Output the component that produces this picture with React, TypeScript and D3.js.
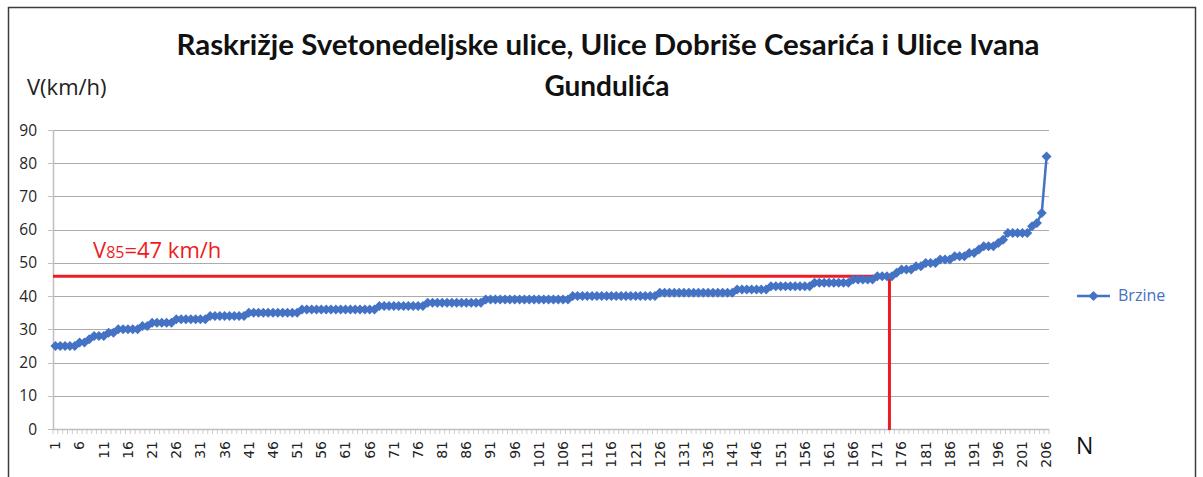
import React, { useEffect, useRef } from 'react';
import * as d3 from 'd3';

// measured speeds, sorted ascending (206 vehicles)
const speeds: number[] = [
  25, 25, 25, 25, 25, 26, 26, 27, 28, 28, 28, 29, 29, 30, 30, 30, 30, 30, 31, 31,
  32, 32, 32, 32, 32, 33, 33, 33, 33, 33, 33, 33, 34, 34, 34, 34, 34, 34, 34, 34,
  35, 35, 35, 35, 35, 35, 35, 35, 35, 35, 35,
  36, 36, 36, 36, 36, 36, 36, 36, 36, 36, 36, 36, 36, 36, 36, 36,
  37, 37, 37, 37, 37, 37, 37, 37, 37, 37,
  38, 38, 38, 38, 38, 38, 38, 38, 38, 38, 38, 38,
  39, 39, 39, 39, 39, 39, 39, 39, 39, 39, 39, 39, 39, 39, 39, 39, 39, 39,
  40, 40, 40, 40, 40, 40, 40, 40, 40, 40, 40, 40, 40, 40, 40, 40, 40, 40,
  41, 41, 41, 41, 41, 41, 41, 41, 41, 41, 41, 41, 41, 41, 41, 41,
  42, 42, 42, 42, 42, 42, 42,
  43, 43, 43, 43, 43, 43, 43, 43, 43,
  44, 44, 44, 44, 44, 44, 44, 44,
  45, 45, 45, 45, 45,
  46, 46, 46, 46,
  47, 48, 48, 48, 49, 49, 50, 50, 50, 51, 51, 51, 52, 52, 52, 53, 53, 54, 55, 55,
  55, 56, 57, 59, 59, 59, 59, 59, 61, 62, 65, 82,
];
const categories: string[] = speeds.map((_, i) => String(i + 1));
const yTicks = [0, 10, 20, 30, 40, 50, 60, 70, 80, 90];
const titleLines = [
  'Raskrižje Svetonedeljske ulice, Ulice Dobriše Cesarića i Ulice Ivana',
  'Gundulića',
];
const seriesName = 'Brzine';
const v85Level = 46; // red horizontal marker
const v85Band = '174'; // red vertical marker sits on the left edge of this band

const BLUE = '#4472C4';
const RED = '#ED1C24';
const GRID = '#ababab';
const AXIS = '#bfbfbf';

const W = 1203;
const H = 477;
const plot = { left: 53, right: 1049, top: 130, bottom: 429 };

const diamond = (r: number) => `M0,${-r}L${r},0L0,${r}L${-r},0Z`;

const App: React.FC = () => {
  const svgRef = useRef<SVGSVGElement>(null);

  useEffect(() => {
    if (!svgRef.current) return;
    const svg = d3.select(svgRef.current);
    svg.selectAll('*').remove();

    const xScale = d3
      .scaleBand()
      .domain(categories)
      .range([plot.left, plot.right])
      .padding(0);
    const bw = xScale.bandwidth();
    const cx = (c: string) => (xScale(c) || 0) + bw / 2;

    const yScale = d3.scaleLinear().domain([0, 90]).range([plot.bottom, plot.top]);

    // frame
    svg
      .append('rect')
      .attr('x', 8.5)
      .attr('y', 7.5)
      .attr('width', 1187)
      .attr('height', 490)
      .attr('fill', 'none')
      .attr('stroke', '#3c3c3c')
      .attr('stroke-width', 1.5);

    // title
    const title = svg
      .append('g')
      .attr('font-family', 'Lato, "Open Sans", sans-serif')
      .attr('font-weight', 700)
      .attr('font-size', 28)
      .attr('fill', '#111')
      .attr('text-anchor', 'middle');
    title
      .append('text')
      .attr('x', 608)
      .attr('y', 55)
      .attr('textLength', 863)
      .attr('lengthAdjust', 'spacingAndGlyphs')
      .text(titleLines[0]);
    title.append('text').attr('x', 607).attr('y', 96).text(titleLines[1]);

    // axis titles
    svg
      .append('text')
      .attr('x', 27)
      .attr('y', 95)
      .attr('font-family', '"Open Sans", sans-serif')
      .attr('font-size', 22)
      .attr('fill', '#222')
      .text('V(km/h)');
    svg
      .append('text')
      .attr('x', 1076)
      .attr('y', 454)
      .attr('font-family', '"Open Sans", sans-serif')
      .attr('font-size', 23)
      .attr('fill', '#111')
      .text('N');

    // grid
    svg
      .append('g')
      .selectAll('line')
      .data(yTicks.filter((t) => t > 0))
      .join('line')
      .attr('x1', plot.left)
      .attr('x2', plot.right)
      .attr('y1', (d) => Math.round(yScale(d)) + 0.5)
      .attr('y2', (d) => Math.round(yScale(d)) + 0.5)
      .attr('stroke', GRID)
      .attr('stroke-width', 1.2);

    // y axis
    const yAxis = svg.append('g');
    yAxis
      .append('line')
      .attr('x1', plot.left + 0.5)
      .attr('x2', plot.left + 0.5)
      .attr('y1', plot.top)
      .attr('y2', plot.bottom)
      .attr('stroke', AXIS)
      .attr('stroke-width', 1.5);
    yAxis
      .selectAll('.ytick')
      .data(yTicks)
      .join('line')
      .attr('class', 'ytick')
      .attr('x1', plot.left - 5)
      .attr('x2', plot.left)
      .attr('y1', (d) => Math.round(yScale(d)) + 0.5)
      .attr('y2', (d) => Math.round(yScale(d)) + 0.5)
      .attr('stroke', AXIS);
    yAxis
      .selectAll('text')
      .data(yTicks)
      .join('text')
      .attr('x', 37)
      .attr('y', (d) => yScale(d))
      .attr('dy', '0.36em')
      .attr('text-anchor', 'end')
      .attr('font-family', '"Open Sans", sans-serif')
      .attr('font-size', 15.5)
      .attr('fill', '#262626')
      .text((d) => d);

    // x axis
    const xAxis = svg.append('g');
    xAxis
      .append('line')
      .attr('x1', plot.left)
      .attr('x2', plot.right)
      .attr('y1', plot.bottom + 0.5)
      .attr('y2', plot.bottom + 0.5)
      .attr('stroke', AXIS)
      .attr('stroke-width', 1.5);
    xAxis
      .selectAll('.xtick')
      .data([...categories.map((c) => xScale(c) || 0), plot.right])
      .join('line')
      .attr('class', 'xtick')
      .attr('x1', (d) => d)
      .attr('x2', (d) => d)
      .attr('y1', plot.bottom)
      .attr('y2', plot.bottom + 5)
      .attr('stroke', AXIS)
      .attr('stroke-width', 0.8);
    xAxis
      .selectAll('text')
      .data(categories.filter((_, i) => i % 5 === 0))
      .join('text')
      .attr('transform', (d) => `translate(${cx(d)},441) rotate(-90)`)
      .attr('dy', '0.35em')
      .attr('text-anchor', 'end')
      .attr('font-family', '"DejaVu Sans", sans-serif')
      .attr('font-size', 14)
      .attr('fill', '#222')
      .text((d) => d);

    // V85 marker
    const vx = xScale(v85Band) || 0;
    const vy = yScale(v85Level);
    svg
      .append('path')
      .attr('d', `M${plot.left},${vy}H${vx}V${plot.bottom + 1}`)
      .attr('fill', 'none')
      .attr('stroke', RED)
      .attr('stroke-width', 3);
    const lbl = svg
      .append('text')
      .attr('x', 93)
      .attr('y', 258)
      .attr('font-family', '"Open Sans", sans-serif')
      .attr('font-size', 22)
      .attr('fill', RED);
    lbl.append('tspan').text('V');
    lbl.append('tspan').attr('font-size', 16).text('85');
    lbl.append('tspan').text('=47 km/h');

    // series
    const line = d3
      .line<number>()
      .x((_, i) => cx(categories[i]))
      .y((d) => yScale(d));
    svg
      .append('path')
      .datum(speeds)
      .attr('d', line)
      .attr('fill', 'none')
      .attr('stroke', BLUE)
      .attr('stroke-width', 2.5);
    svg
      .append('g')
      .selectAll('path')
      .data(speeds)
      .join('path')
      .attr('transform', (d, i) => `translate(${cx(categories[i])},${yScale(d)})`)
      .attr('d', diamond(5))
      .attr('fill', BLUE);

    // legend
    const lg = svg.append('g').attr('transform', 'translate(1077,296)');
    lg.append('line').attr('x1', 0).attr('x2', 33).attr('stroke', BLUE).attr('stroke-width', 2.5);
    lg.append('path').attr('transform', 'translate(16.5,0)').attr('d', diamond(5)).attr('fill', BLUE);
    lg.append('text')
      .attr('x', 41)
      .attr('y', 5)
      .attr('font-family', '"Open Sans", sans-serif')
      .attr('font-size', 16)
      .attr('fill', BLUE)
      .text(seriesName);
  }, []);

  return (
    <div style={{ position: 'absolute', left: 0, top: 0 }}>
      <svg ref={svgRef} width={W} height={H} style={{ display: 'block', background: '#fff' }} />
    </div>
  );
};

export default App;
